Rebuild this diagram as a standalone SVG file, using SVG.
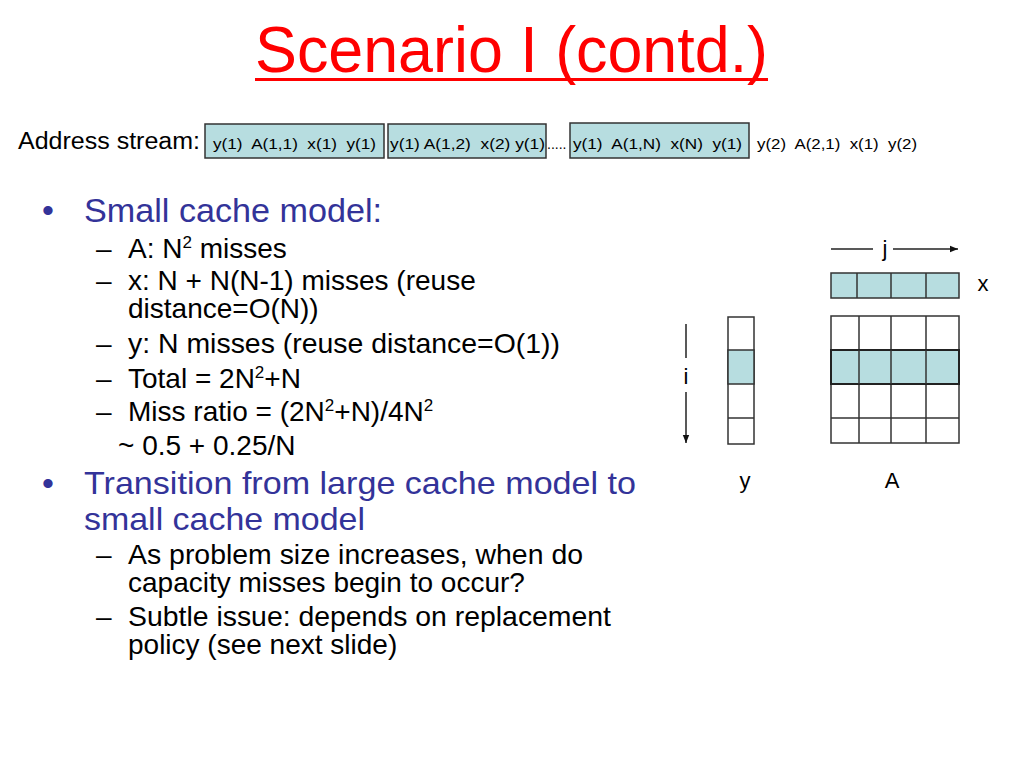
<svg xmlns="http://www.w3.org/2000/svg" width="1024" height="768" viewBox="0 0 1024 768">
<defs>
<style>
text{font-family:"Liberation Sans",Arial,sans-serif}
.title{font-size:64px;fill:#ff0000}
.l1{font-size:34px;fill:#333399}
.l2{font-size:28px;fill:#000}
.st{font-size:14px;fill:#000}
.lab{font-size:22px;fill:#000}
.cell{fill:#b7dde0;stroke:#333;stroke-width:1.5}
.grid{fill:none;stroke:#333;stroke-width:1.5}
.ln{stroke:#222;stroke-width:1.5;fill:none}
</style>
<marker id="ah" viewBox="0 0 10 10" refX="10" refY="5" markerWidth="8" markerHeight="8" markerUnits="userSpaceOnUse" orient="auto">
<path d="M0,1 L10,5 L0,9 z" fill="#111"/>
</marker>
</defs>
<rect width="1024" height="768" fill="#fff"/>

<g id="title">
<text class="title" x="255" y="72" textLength="513" lengthAdjust="spacingAndGlyphs">Scenario I (contd.)</text>
<rect x="255" y="78" width="513" height="3" fill="#ff0000"/>
</g>

<g id="address-stream">
<text x="18" y="149" font-size="23" textLength="182" lengthAdjust="spacingAndGlyphs">Address stream:</text>
<rect class="cell" x="205" y="124" width="179" height="34"/>
<text class="st" x="213" y="149" xml:space="preserve" textLength="163" lengthAdjust="spacingAndGlyphs">y(1)  A(1,1)  x(1)  y(1)</text>
<rect class="cell" x="388" y="124" width="158" height="34"/>
<text class="st" x="390" y="149" xml:space="preserve" textLength="155" lengthAdjust="spacingAndGlyphs">y(1) A(1,2)  x(2) y(1)</text>
<text class="st" x="547" y="149">.....</text>
<rect class="cell" x="570" y="123" width="179" height="35"/>
<text class="st" x="573" y="149" xml:space="preserve" textLength="169" lengthAdjust="spacingAndGlyphs">y(1)  A(1,N)  x(N)  y(1)</text>
<text class="st" x="757" y="149" xml:space="preserve" textLength="160" lengthAdjust="spacingAndGlyphs">y(2)  A(2,1)  x(1)  y(2)</text>
</g>

<g id="bullets">
<text class="l1" x="42" y="222">•</text>
<text class="l1" x="84" y="222" textLength="298" lengthAdjust="spacingAndGlyphs">Small cache model:</text>
<text class="l2" x="96" y="258">–</text>
<text class="l2" x="128" y="258">A: N<tspan font-size="17" dy="-10">2</tspan><tspan dy="10"> misses</tspan></text>
<text class="l2" x="96" y="290">–</text>
<text class="l2"><tspan x="128" y="290">x: N + N(N-1) misses (reuse</tspan><tspan x="128" y="318">distance=O(N))</tspan></text>
<text class="l2" x="96" y="353">–</text>
<text class="l2" x="128" y="353" textLength="432" lengthAdjust="spacingAndGlyphs">y: N misses (reuse distance=O(1))</text>
<text class="l2" x="96" y="388">–</text>
<text class="l2" x="128" y="388">Total = 2N<tspan font-size="17" dy="-10">2</tspan><tspan dy="10">+N</tspan></text>
<text class="l2" x="96" y="421">–</text>
<text class="l2" x="128" y="421">Miss ratio = (2N<tspan font-size="17" dy="-10">2</tspan><tspan dy="10">+N)/4N</tspan><tspan font-size="17" dy="-10">2</tspan></text>
<text class="l2" x="118" y="455">~ 0.5 + 0.25/N</text>
<text class="l1" x="42" y="495">•</text>
<text class="l1" font-size="32" style="font-size:32px"><tspan x="84" y="494" textLength="552" lengthAdjust="spacingAndGlyphs">Transition from large cache model to</tspan><tspan x="84" y="530" textLength="281" lengthAdjust="spacingAndGlyphs">small cache model</tspan></text>
<text class="l2" x="96" y="564">–</text>
<text class="l2"><tspan x="128" y="564" textLength="455" lengthAdjust="spacingAndGlyphs">As problem size increases, when do</tspan><tspan x="128" y="592">capacity misses begin to occur?</tspan></text>
<text class="l2" x="96" y="626">–</text>
<text class="l2"><tspan x="128" y="626" textLength="483" lengthAdjust="spacingAndGlyphs">Subtle issue: depends on replacement</tspan><tspan x="128" y="654">policy (see next slide)</tspan></text>
</g>

<g id="connectors">
<line class="ln" x1="831" y1="249" x2="873" y2="249"/>
<line class="ln" x1="893" y1="249" x2="958" y2="249" marker-end="url(#ah)"/>
<line class="ln" x1="686" y1="324" x2="686" y2="358"/>
<line class="ln" x1="686" y1="392" x2="686" y2="443" marker-end="url(#ah)"/>
</g>

<g id="label-j"><text class="lab" x="885" y="256" text-anchor="middle">j</text></g>
<g id="label-i"><text class="lab" x="686" y="384" text-anchor="middle">i</text></g>

<g id="vector-x">
<rect class="cell" x="831" y="273" width="128" height="25"/>
<line class="grid" x1="857" y1="273" x2="857" y2="298"/>
<line class="grid" x1="891" y1="273" x2="891" y2="298"/>
<line class="grid" x1="926" y1="273" x2="926" y2="298"/>
<text class="lab" x="983" y="291" text-anchor="middle">x</text>
</g>

<g id="vector-y">
<rect class="grid" x="728" y="317" width="26" height="127"/>
<rect class="cell" x="728" y="350" width="26" height="34"/>
<line class="grid" x1="728" y1="418" x2="754" y2="418"/>
<text class="lab" x="745" y="488" text-anchor="middle">y</text>
</g>

<g id="matrix-A">
<rect class="grid" x="831" y="316" width="128" height="127"/>
<line class="grid" x1="859" y1="316" x2="859" y2="443"/>
<line class="grid" x1="891" y1="316" x2="891" y2="443"/>
<line class="grid" x1="926" y1="316" x2="926" y2="443"/>
<line class="grid" x1="831" y1="418" x2="959" y2="418"/>
<rect x="831" y="350" width="128" height="34" fill="#b7dde0" stroke="#222" stroke-width="2"/>
<line class="grid" x1="859" y1="350" x2="859" y2="384"/>
<line class="grid" x1="891" y1="350" x2="891" y2="384"/>
<line class="grid" x1="926" y1="350" x2="926" y2="384"/>
<text class="lab" x="892" y="488" text-anchor="middle">A</text>
</g>
</svg>
